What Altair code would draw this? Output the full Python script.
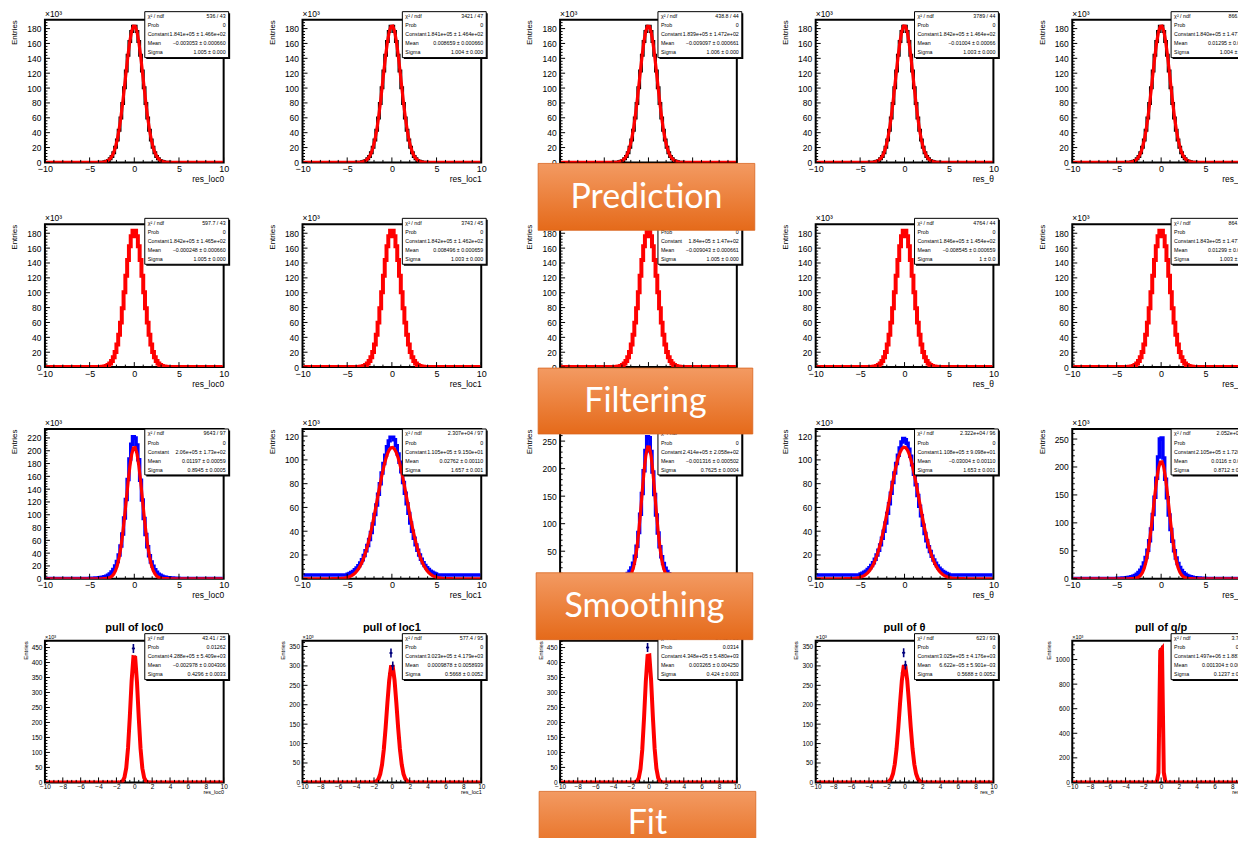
import altair as alt
import pandas as pd

FONT = "Liberation Sans"

# ---------------- layout (pixels) ----------------
COL_W = [179, 179, 177, 178, 178]
ROW_H = [143, 143, 150, 142]
BOX_TOP = [-8, -6, 0, -7]

# ---------------- data ----------------
X_TITLES = ["res_loc0", "res_loc1", "res_φ", "res_θ", "res_q/p"]
PULL_TITLES = ["pull of loc0", "pull of loc1", "pull of φ", "pull of θ", "pull of q/p"]
STAGES = ["Prediction", "Filtering", "Smoothing", "Fit"]

Y_MAX = [[192] * 5, [192] * 5, [234, 126, 272, 126, 268], [473, 365, 473, 365, 1154]]
Y_STEP = [[20] * 5, [20] * 5, [20, 20, 50, 20, 50], [50, 50, 50, 50, 200]]

# bin centres of the core region (-4.9 .. 4.9, 0.2 wide) and outer bins
CORE_X = [round(-4.9 + 0.2 * i, 1) for i in range(50)]
OUTER_L = [round(-9.9 + 0.2 * i, 1) for i in range(25)]
OUTER_R = [round(5.1 + 0.2 * i, 1) for i in range(25)]

# residual histograms of prediction / filtering (entries, x10^3)
PRED_FILT_COUNTS = [0, 0, 0, 0, 0, 0.1, 0.2, 0.4, 0.8, 1.5, 2.7, 4.8, 8.1, 13.1, 20.3,
                    30.3, 43.4, 59.8, 79.1, 100.5, 122.8, 144.1, 162.5, 176.0, 183.2,
                    183.2, 176.0, 162.5, 144.1, 122.8, 100.5, 79.1, 59.8, 43.4, 30.3,
                    20.3, 13.1, 8.1, 4.8, 2.7, 1.5, 0.8, 0.4, 0.2, 0.1, 0, 0, 0, 0, 0]

# smoothing histograms (blue)
SMOOTH_LOC0 = [0.7, 0.8, 0.9, 1.0, 1.2, 1.4, 1.8, 2.3, 3.0, 4.0, 5.5, 7.5, 10.5, 14.5, 20.0,
               27, 37, 51, 70, 95, 124, 155, 187, 210, 222,
               220, 209, 186, 154, 123, 94, 69, 50, 36, 26, 19.5, 14, 10, 7.2, 5.3,
               3.9, 2.9, 2.2, 1.7, 1.4, 1.2, 1.0, 0.9, 0.8, 0.7]
SMOOTH_LOC1 = [3.8, 4.4, 5.2, 6.2, 7.5, 9, 11, 13.2, 16, 19.5, 23.5, 28, 33, 39, 46,
               54, 62, 71, 80, 89, 97, 104, 111, 116, 119,
               119, 117, 112, 105, 98, 90, 81, 72, 63, 55, 47, 40, 34, 28.5, 24,
               20, 16.5, 13.5, 11.2, 9.3, 7.7, 6.4, 5.4, 4.6, 4.0]
SMOOTH_PHI = [0.5, 0.6, 0.7, 0.8, 0.9, 1.1, 1.4, 1.7, 2.2, 2.8, 3.7, 5.0, 6.8, 9.5, 13.5,
              19.5, 28, 41, 59, 84, 117, 155, 196, 233, 258,
              256, 231, 194, 153, 116, 83, 58, 40, 27.5, 19, 13, 9.2, 6.6, 4.9, 3.6,
              2.7, 2.1, 1.7, 1.4, 1.1, 0.9, 0.8, 0.7, 0.6, 0.5]
SMOOTH_THETA = [4.0, 4.6, 5.4, 6.4, 7.7, 9.2, 11.2, 13.5, 16.5, 20, 24, 28.5, 34, 40, 47,
                55, 63, 72, 81, 89, 97, 104, 110, 115, 118,
                117, 114, 109, 103, 96, 88, 79, 70, 61, 53, 45, 38, 32, 27, 23,
                19, 15.8, 13, 10.8, 8.9, 7.4, 6.2, 5.2, 4.4, 3.8]
SMOOTH_QOP = [0.8, 0.9, 1.0, 1.2, 1.4, 1.7, 2.1, 2.7, 3.5, 4.5, 6, 8, 11, 15, 20.5,
              28, 38, 51, 68, 89, 115, 146, 180, 218, 250,
              252, 216, 178, 145, 114, 88, 67, 50, 37, 27.5, 20, 14.8, 10.8, 7.9, 5.9,
              4.4, 3.4, 2.6, 2.0, 1.7, 1.4, 1.2, 1.0, 0.9, 0.8]
SMOOTH_COUNTS = [SMOOTH_LOC0, SMOOTH_LOC1, SMOOTH_PHI, SMOOTH_THETA, SMOOTH_QOP]
SMOOTH_TAIL = [0.5, 3.2, 0.4, 3.2, 0.6]

# pull distributions (points)
PULL_X = [-1.7, -1.5, -1.3, -1.1, -0.9, -0.7, -0.5, -0.3, -0.1,
          0.1, 0.3, 0.5, 0.7, 0.9, 1.1, 1.3, 1.5, 1.7]
PULL_LOC0 = [0.5, 1, 4, 15, 45, 113, 215, 351, 447, 420, 327, 200, 103, 47, 17, 5, 1, 0.5]
PULL_LOC1 = [4, 10, 25, 52, 95, 150, 215, 280, 333, 300, 255, 195, 135, 80, 42, 20, 8, 3]
PULL_PHI = [0.5, 1, 3, 14, 45, 110, 215, 345, 450, 415, 330, 205, 105, 42, 13, 3, 1, 0.5]
PULL_THETA = [4, 9, 24, 50, 93, 148, 213, 282, 334, 302, 257, 197, 133, 82, 43, 21, 9, 3]
PULL_QOP = [0, 0, 0, 0, 0, 0, 0, 70, 1085, 1105, 60, 0, 0, 0, 0, 0, 0, 0]
PULL_COUNTS = [PULL_LOC0, PULL_LOC1, PULL_PHI, PULL_THETA, PULL_QOP]
PULL_BLUE = [[8], [8, 9], [8], [8, 9], []]

# gaussian fit parameters (constant in x10^3)
FIT_CONST = [[184.1, 184.1, 183.9, 184.2, 184.0],
             [184.2, 184.2, 184.0, 184.6, 184.3],
             [206.0, 110.5, 241.4, 110.8, 210.5],
             [428.8, 302.3, 434.8, 302.5, 1497.0]]
FIT_MEAN = [[-0.003053, 0.008659, -0.009097, -0.01004, 0.01295],
            [-0.000248, 0.008496, -0.009043, -0.008545, 0.01299],
            [0.01197, 0.02762, -0.001316, -0.03004, 0.0116],
            [-0.002978, 0.0009878, 0.003265, 0.00006622, 0.001304]]
FIT_SIGMA = [[1.005, 1.004, 1.006, 1.003, 1.004],
             [1.005, 1.003, 1.005, 1.0, 1.003],
             [0.8945, 1.657, 0.7625, 1.653, 0.8712],
             [0.4296, 0.5668, 0.424, 0.5688, 0.1237]]

STAT_LABELS = ["χ² / ndf", "Prob", "Constant", "Mean", "Sigma"]
STATS = [
    [["536 / 43", "0", "1.841e+05 ± 1.466e+02", "−0.003053 ± 0.000660", "1.005 ± 0.000"],
     ["3421 / 47", "0", "1.841e+05 ± 1.464e+02", "0.008659 ± 0.000660", "1.004 ± 0.000"],
     ["438.8 / 44", "0", "1.839e+05 ± 1.472e+02", "−0.009097 ± 0.000661", "1.006 ± 0.000"],
     ["3789 / 44", "0", "1.842e+05 ± 1.464e+02", "−0.01004 ± 0.00066", "1.003 ± 0.000"],
     ["866.8 / 44", "0", "1.840e+05 ± 1.477e+02", "0.01295 ± 0.00066", "1.004 ± 0.000"]],
    [["597.7 / 43", "0", "1.842e+05 ± 1.465e+02", "−0.000248 ± 0.000660", "1.005 ± 0.000"],
     ["3743 / 45", "0", "1.842e+05 ± 1.462e+02", "0.008496 ± 0.000659", "1.003 ± 0.000"],
     ["", "0", "1.84e+05 ± 1.47e+02", "−0.009043 ± 0.000661", "1.005 ± 0.000"],
     ["4764 / 44", "0", "1.846e+05 ± 1.454e+02", "−0.008545 ± 0.000659", "1 ± 0.0"],
     ["864.1 / 44", "0", "1.843e+05 ± 1.477e+02", "0.01299 ± 0.00066", "1.003 ± 0.000"]],
    [["9643 / 97", "0", "2.06e+05 ± 1.73e+02", "0.01197 ± 0.00059", "0.8945 ± 0.0005"],
     ["2.307e+04 / 97", "0", "1.105e+05 ± 9.150e+01", "0.02762 ± 0.00110", "1.657 ± 0.001"],
     ["", "0", "2.414e+05 ± 2.058e+02", "−0.001316 ± 0.000502", "0.7625 ± 0.0004"],
     ["2.322e+04 / 96", "0", "1.108e+05 ± 9.098e+01", "−0.03004 ± 0.00110", "1.653 ± 0.001"],
     ["2.052e+04 / 97", "0", "2.105e+05 ± 1.720e+02", "0.0116 ± 0.00059", "0.8712 ± 0.0005"]],
    [["43.41 / 25", "0.01262", "4.288e+05 ± 5.409e+03", "−0.002978 ± 0.004306", "0.4296 ± 0.0033"],
     ["577.4 / 95", "0", "3.023e+05 ± 4.179e+03", "0.0009878 ± 0.0058939", "0.5668 ± 0.0052"],
     ["34.32 / 21", "0.0314", "4.348e+05 ± 5.480e+03", "0.003265 ± 0.004250", "0.424 ± 0.003"],
     ["623 / 93", "0", "3.025e+05 ± 4.176e+03", "6.622e−05 ± 5.901e−03", "0.5688 ± 0.0052"],
     ["3.772 / 3", "0.2872", "1.497e+06 ± 1.883e+04", "0.001304 ± 0.001301", "0.1237 ± 0.0009"]],
]

ONE = pd.DataFrame({"k": [0]})


def hist_df(core, tail):
    return pd.DataFrame({"x": OUTER_L + CORE_X + OUTER_R,
                         "y": [tail] * 25 + list(core) + [tail] * 25})


def panel(r, c):
    W, H = COL_W[c], ROW_H[r]
    ymax, ystep = Y_MAX[r][c], Y_STEP[r][c]
    small = r == 3
    hidden_x = (c == 2 and r < 3)          # x axis of middle column covered by stage boxes
    xs = alt.Scale(domain=[-10, 10], nice=False, zero=False)
    ys = alt.Scale(domain=[0, ymax], nice=False, zero=False)
    xtitle = None if (c == 2) else X_TITLES[c]
    xaxis = alt.Axis(values=list(range(-10, 11, 2 if small else 5)), format="d",
                     ticks=False, domain=False, grid=False, labels=not hidden_x,
                     labelFont=FONT,
                     labelFontSize=6.5 if small else 9, labelColor="black",
                     labelPadding=1 if small else 2, labelFlush=False, labelOverlap=False,
                     title=xtitle, titleFont=FONT, titleFontSize=5.5 if small else 8.5,
                     titleFontWeight="normal", titleColor="black", titleAnchor="end",
                     titlePadding=0 if small else 1)
    yaxis = alt.Axis(values=list(range(0, int(ymax) + 1, ystep)), format="d",
                     ticks=False, domain=False, grid=False, labelFont=FONT,
                     labelFontSize=6.5 if small else 8.5, labelColor="black",
                     labelPadding=3 if small else 4, labelFlush=False, labelOverlap=False,
                     title="Entries", titleFont=FONT, titleFontSize=6 if small else 8,
                     titleFontWeight="normal", titleColor="black", titleAnchor="end",
                     titlePadding=3 if small else 8)

    def X(f):
        return alt.X(f, scale=xs, axis=xaxis)

    def Y(f):
        return alt.Y(f, scale=ys, axis=yaxis)

    layers = []
    # --- data ---
    if r < 3:
        if r == 2:
            hd = hist_df(SMOOTH_COUNTS[c], SMOOTH_TAIL[c])
            hcol, hw = "#0000ff", 3.5
        else:
            hd = hist_df(PRED_FILT_COUNTS, 0)
            hcol, hw = ("black", 3) if r == 0 else ("#ff0000", 4)
        layers.append(alt.Chart(hd).mark_line(interpolate="step", color=hcol, strokeWidth=hw,
                                              clip=True)
                      .encode(x=X("x:Q"), y=Y("y:Q")))
    else:
        pd_ = pd.DataFrame({"x": PULL_X, "y": PULL_COUNTS[c]})
        pd_ = pd_[pd_.y > 0]
        layers.append(alt.Chart(pd_).mark_point(shape="circle", filled=True, size=5,
                                                color="black", opacity=1)
                      .encode(x=X("x:Q"), y=Y("y:Q")))
    if r != 1:
        C, m, s = FIT_CONST[r][c], FIT_MEAN[r][c], FIT_SIGMA[r][c]
        layers.append(alt.Chart(alt.sequence(-9.9, 9.95, 0.2, as_="x"))
                      .transform_calculate(y=f"{C}*exp(-0.5*pow((datum.x-({m}))/{s},2))")
                      .mark_line(color="#ff0000", strokeWidth=4 if small else 3.2, clip=True)
                      .encode(x=X("x:Q"), y=Y("y:Q")))
    if small and PULL_BLUE[c]:
        bd = pd.DataFrame({"x": [PULL_X[i] for i in PULL_BLUE[c]],
                           "y": [PULL_COUNTS[c][i] for i in PULL_BLUE[c]]})
        layers.append(alt.Chart(bd).mark_point(shape="M0,-1L0,1M-0.35,0L0.35,0", size=80,
                                               stroke="#000080", strokeWidth=1.6, filled=False,
                                               opacity=1)
                      .encode(x=X("x:Q"), y=Y("y:Q")))
    # --- inner ticks (ROOT style) ---
    xmaj = 2 if small else 5
    xmin = 0.5 if small else 1
    ymin = ystep / 5
    xt = pd.DataFrame({"x": [-10 + xmin * i for i in range(int(20 / xmin) + 1)]})
    xt["L"] = [5 if abs(v / xmaj - round(v / xmaj)) < 1e-6 else 2.5 for v in xt.x]
    yt = pd.DataFrame({"y": [ymin * i for i in range(int(ymax / ymin) + 1)]})
    yt["L"] = [5 if abs(v / ystep - round(v / ystep)) < 1e-6 else 2.5 for v in yt.y]
    for L in (5, 2.5):
        layers.append(alt.Chart(xt[xt.L == L]).mark_rule(color="black", strokeWidth=1)
                      .encode(x=X("x:Q"), y=alt.value(H), y2=alt.value(H - L)))
        layers.append(alt.Chart(yt[yt.L == L]).mark_rule(color="black", strokeWidth=1)
                      .encode(y=Y("y:Q"), x=alt.value(0), x2=alt.value(L)))
    # --- x10^3 (hidden under the stage boxes in the middle column) ---
    if not (c == 2 and r >= 1):
        layers.append(alt.Chart(ONE).mark_text(align="left", baseline="bottom", font=FONT,
                                               fontSize=5.5 if small else 8.5, color="black")
                      .encode(x=alt.value(0), y=alt.value(-1), text=alt.value("×10³")))
    # --- stats box ---
    bl, br = W - 79, W + 5
    bt = BOX_TOP[r]
    bb = bt + 46
    layers.append(alt.Chart(ONE).mark_rect(fill="black")
                  .encode(x=alt.value(bl + 1.5), x2=alt.value(br + 1.5),
                          y=alt.value(bt + 1.5), y2=alt.value(bb + 1.5)))
    layers.append(alt.Chart(ONE).mark_rect(fill="white", stroke="black", strokeWidth=1)
                  .encode(x=alt.value(bl), x2=alt.value(br), y=alt.value(bt), y2=alt.value(bb)))
    layers.append(alt.Chart(ONE).mark_text(align="left", baseline="top", font=FONT,
                                           fontSize=5.3, lineHeight=9.1, color="black")
                  .encode(x=alt.value(bl + 3), y=alt.value(bt + 2.5),
                          text=alt.value(STAT_LABELS)))
    layers.append(alt.Chart(ONE).mark_text(align="right", baseline="top", font=FONT,
                                           fontSize=5.3, lineHeight=9.1, color="black")
                  .encode(x=alt.value(br - 3), y=alt.value(bt + 2.5),
                          text=alt.value(STATS[r][c])))
    # --- stage labels (orange boxes) on the middle column ---
    if c == 2 and r >= 1:
        grad = alt.LinearGradient(gradient="linear",
                                  stops=[alt.GradientStop(color="#F39A62", offset=0),
                                         alt.GradientStop(color="#E56A1A", offset=1)],
                                  x1=0, x2=0, y1=0, y2=1)
        boxes = [(r - 1, {1: (-22, 195, -61, 6), 2: (-22, 193, -61, 5), 3: (-24, 193, -68, -1)}[r])]
        if r == 3:
            boxes.append((3, (-21, 196, 151, 217)))
        for si, (x1, x2, y1, y2) in boxes:
            ty = (y1 + y2) / 2 + 1 if si < 3 else y1 + 33
            layers.append(alt.Chart(ONE).mark_rect(fill=grad, stroke="#D8651F", strokeWidth=0.8)
                          .encode(x=alt.value(x1), x2=alt.value(x2),
                                  y=alt.value(y1), y2=alt.value(y2)))
            layers.append(alt.Chart(ONE).mark_text(align="center", baseline="middle", font="Lato",
                                                   fontSize=34, color="white")
                          .encode(x=alt.value((x1 + x2) / 2), y=alt.value(ty),
                                  text=alt.value(STAGES[si])))
    props = dict(width=W, height=H)
    if small and c != 2:
        props["title"] = alt.TitleParams(PULL_TITLES[c], font=FONT, fontSize=11,
                                         fontWeight="bold", color="black", anchor="middle",
                                         offset=0)
    return alt.layer(*layers).properties(**props)


panels = [panel(r, c) for r in range(4) for c in range(5)]
chart = (alt.concat(*panels, columns=5, spacing={"row": 62, "column": 79}, bounds="flush")
         .resolve_scale(x="independent", y="independent")
         .properties(padding={"left": 1, "top": 0, "right": -20, "bottom": -22})
         .configure_view(stroke="black", strokeWidth=2))

chart.save("out.html", embed_options={"renderer": "svg", "actions": False})
